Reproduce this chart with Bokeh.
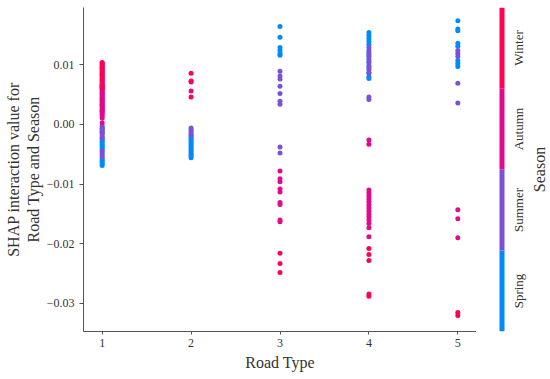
import math
from bokeh.plotting import figure
from bokeh.layouts import row
from bokeh.models import ColumnDataSource, FixedTicker, CustomJSTickFormatter, Range1d, LinearAxis
from bokeh.core.properties import value
from bokeh.embed import file_html
from bokeh.resources import INLINE

# ---------------- data ----------------
road_types = [1, 2, 3, 4, 5]
seasons = ["Spring", "Summer", "Autumn", "Winter"]
season_colors = ["#008bfb", "#7b52d6", "#e3088c", "#ff0052"]
x_ticks = [1, 2, 3, 4, 5]
y_ticks = [-0.03, -0.02, -0.01, 0.0, 0.01]
y_label_lines = ["SHAP interaction value for", "Road Type and Season"]

# SHAP interaction values, per road type and season
rt1_spring = [-0.0007, -0.0013, -0.0024, -0.0027, -0.0030, -0.0033, -0.0036, -0.0039, -0.0042,
              -0.0057, -0.0060, -0.0063, -0.0066, -0.0069]
rt1_summer = [-0.0002, -0.0005, -0.0008, -0.0011, -0.0014, -0.0017, -0.0020, -0.0023,
              -0.0045, -0.0048, -0.0051, -0.0054]
rt1_autumn = [0.0072, 0.0070, 0.0068, 0.0066, 0.0064, 0.0062, 0.0060, 0.0058, 0.0056, 0.0054,
              0.0052, 0.0050, 0.0048, 0.0046, 0.0044, 0.0042, 0.0040, 0.0038, 0.0036, 0.0034,
              0.0032, 0.0030, 0.0028, 0.0026, 0.0024, 0.0022, 0.0020, 0.0017, 0.0014, 0.0011, 0.0003]
rt1_winter = [0.0104, 0.0102, 0.0100, 0.0098, 0.0096, 0.0094, 0.0092, 0.0090, 0.0088, 0.0086,
              0.0084, 0.0082, 0.0080, 0.0078, 0.0076, 0.0074, 0.0065, 0.0061]

rt2_spring = [-0.0020, -0.0023, -0.0026, -0.0029, -0.0032, -0.0035, -0.0038, -0.0041, -0.0044,
              -0.0047, -0.0050, -0.0053, -0.0056]
rt2_summer = [-0.0006, -0.0009, -0.0012, -0.0015, -0.0018]
rt2_autumn = [0.0071, 0.0056]
rt2_winter = [0.0086, 0.0073, 0.0046]

rt3_spring = [0.0164, 0.0146, 0.0129, 0.0124, 0.0119, 0.0116]
rt3_summer = [0.0089, 0.0081, 0.0076, 0.0064, 0.0052, 0.0039, 0.0034, -0.0038, -0.0048]
rt3_autumn = [-0.0078, -0.0091, -0.0096, -0.0108, -0.0113, -0.0131, -0.0134, -0.0160, -0.0163]
rt3_winter = [-0.0216, -0.0233, -0.0248]

rt4_spring = [0.0154, 0.0149, 0.0144, 0.0139, 0.0134, 0.0120, 0.0114, 0.0104, 0.0096, 0.0087,
              0.0080, 0.0077]
rt4_summer = [0.0129, 0.0124, 0.0117, 0.0110, 0.0106, 0.0099, 0.0092, 0.0086, 0.0046, 0.0042]
rt4_autumn = [-0.0026, -0.0033, -0.0110, -0.0115, -0.0120, -0.0125, -0.0130, -0.0135, -0.0140,
              -0.0145, -0.0150, -0.0155, -0.0160, -0.0166, -0.0173, -0.0188]
rt4_winter = [-0.0208, -0.0218, -0.0228, -0.0284, -0.0288]

rt5_spring = [0.0174, 0.0160, 0.0157, 0.0136, 0.0131, 0.0107, 0.0102, 0.0097]
rt5_summer = [0.0124, 0.0119, 0.0114, 0.0069, 0.0036]
rt5_autumn = [-0.0143, -0.0158, -0.0190]
rt5_winter = [-0.0315, -0.0320]

values = {
    1: [rt1_spring, rt1_summer, rt1_autumn, rt1_winter],
    2: [rt2_spring, rt2_summer, rt2_autumn, rt2_winter],
    3: [rt3_spring, rt3_summer, rt3_autumn, rt3_winter],
    4: [rt4_spring, rt4_summer, rt4_autumn, rt4_winter],
    5: [rt5_spring, rt5_summer, rt5_autumn, rt5_winter],
}

xs, ys, cs = [], [], []
for rt in road_types:
    for col, vals in zip(season_colors, values[rt]):
        for v in vals:
            xs.append(rt)
            ys.append(v)
            cs.append(col)
src = ColumnDataSource(dict(x=xs, y=ys, c=cs))

FONT = "Liberation Serif"
TXT = "#333333"
H = 379

# ---------------- main plot ----------------
p = figure(width=476, height=H, output_backend="svg", toolbar_location=None,
           x_range=Range1d(0.79, 5.21), y_range=Range1d(-0.0347, 0.0196),
           min_border_left=83, min_border_right=0, min_border_top=7, min_border_bottom=H - 332)
p.outline_line_color = None
p.xgrid.visible = False
p.ygrid.visible = False
p.background_fill_color = "white"
p.border_fill_color = "white"

p.scatter("x", "y", source=src, size=5, fill_color="c", line_color=None)

p.xaxis.ticker = FixedTicker(ticks=x_ticks)
p.yaxis.ticker = FixedTicker(ticks=y_ticks)
p.yaxis.formatter = CustomJSTickFormatter(code="return tick.toFixed(2).replace('-', '\u2212');")
for ax in (p.xaxis[0], p.yaxis[0]):
    ax.axis_line_color = "#555555"
    ax.major_tick_line_color = "#555555"
    ax.major_tick_in = 0
    ax.major_tick_out = 3
    ax.minor_tick_in = 0
    ax.minor_tick_out = 0
    ax.major_label_text_font = FONT
    ax.major_label_text_font_size = "12px"
    ax.major_label_text_color = TXT
    ax.axis_label_text_font = FONT
    ax.axis_label_text_font_size = "16px"
    ax.axis_label_text_font_style = "normal"
    ax.axis_label_text_color = TXT
p.xaxis.major_label_standoff = 4
p.xaxis.axis_label = "Road Type"
p.xaxis.axis_label_standoff = 4
p.yaxis.major_tick_out = 4
p.yaxis.major_label_standoff = 5
p.yaxis.axis_label = y_label_lines[1]
p.yaxis.axis_label_standoff = 2

# outer (first) line of the y-axis title as a tick-less extra axis
outer = LinearAxis(ticker=FixedTicker(ticks=[]), axis_label=y_label_lines[0],
                   axis_line_color=None, major_tick_line_color=None, minor_tick_line_color=None,
                   major_tick_out=0, major_label_standoff=0,
                   axis_label_standoff=0, axis_label_text_font=FONT,
                   axis_label_text_font_size="16px", axis_label_text_font_style="normal",
                   axis_label_text_color=TXT)
p.add_layout(outer, "left")

# ---------------- colour bar ----------------
cb_w = 74
cb = figure(width=cb_w, height=H, output_backend="svg", toolbar_location=None,
            x_range=Range1d(-4.6, -4.6 + cb_w / 5), y_range=Range1d(0, len(seasons)),
            x_axis_location=None, y_axis_location=None,
            min_border_left=0, min_border_right=0, min_border_top=7, min_border_bottom=H - 331)
cb.outline_line_color = None
cb.xgrid.visible = False
cb.ygrid.visible = False
seg_y = [i + 0.5 for i in range(len(seasons))]
cb_src = ColumnDataSource(dict(y=seg_y, name=seasons, c=season_colors))
cb.hbar(y="y", left=0, right=1, height=1, fill_color="c", line_color=None, source=cb_src)
cb.text(x=3.8, y="y", text="name", source=cb_src, angle=math.pi / 2,
        text_align="center", text_baseline="middle",
        text_font=value(FONT), text_font_size="13px", text_color=TXT)
cb.text(x=7.9, y=[len(seasons) / 2], text=["Season"], angle=math.pi / 2,
        text_align="center", text_baseline="middle",
        text_font=value(FONT), text_font_size="16px", text_color=TXT)

layout = row(p, cb, spacing=0)
open("out.html", "w").write(file_html(layout, INLINE))
